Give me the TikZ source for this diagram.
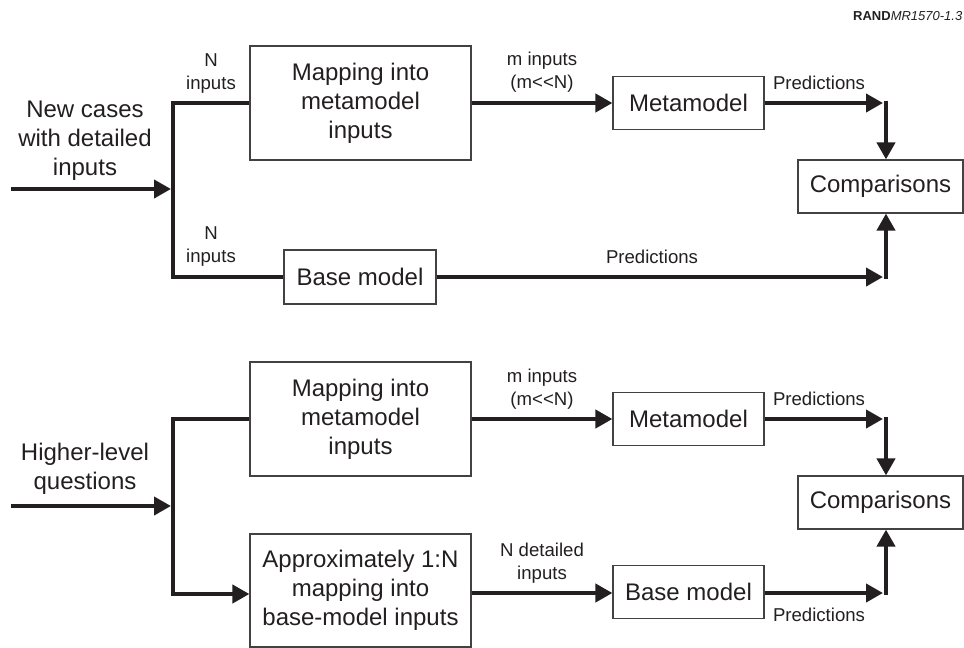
\documentclass[tikz,border=0pt]{standalone}
\usepackage{fontspec}
\setmainfont{Liberation Sans}
\usetikzlibrary{arrows.meta}
\definecolor{ink}{HTML}{231F20}
\begin{document}
\begin{tikzpicture}[x=1pt,y=-1pt,
  box/.style={draw=ink!85, line width=1.2pt, inner sep=0pt, align=center, text=ink, font=\fontsize{24}{29}\selectfont},
  big/.style={align=center, text=ink, font=\fontsize{24}{29}\selectfont, inner sep=0pt},
  small/.style={align=center, text=ink, font=\fontsize{18.6}{23}\selectfont, inner sep=0pt},
  flow/.style={draw=ink, line width=4pt, -{Triangle[length=17pt,width=18pt]}},
  bus/.style={draw=ink, line width=4pt, line join=miter},
]
\useasboundingbox (0,0) rectangle (964,648);

% RAND label
\node[anchor=west, text=ink, inner sep=0pt, font=\fontsize{13}{15}\selectfont] (rand) at (853,16) {\textbf{RAND}\textit{MR1570-1.3}};

% ---------- top diagram ----------
\node[big] (in1) at (85,141) {New cases\\with detailed\\inputs};
\node[box, minimum width=221pt, minimum height=114pt] (map1) at (360.5,103) {Mapping into\\metamodel\\inputs};
\node[box, minimum width=152pt, minimum height=54pt] (base1) at (360,277) {Base model};
\node[box, minimum width=151pt, minimum height=53pt] (meta1) at (688.5,103) {Metamodel};
\node[box, minimum width=165pt, minimum height=53pt] (comp1) at (880.5,186.5) {Comparisons};

\node[small] (lN1) at (211,74) {N\\inputs};
\node[small] (lN2) at (211,247) {N\\inputs};
\node[small] (lm1) at (542,72) {m inputs\\(m{<}{<}N)};
\node[small] (lp1) at (819,83) {Predictions};
\node[small] (lp2) at (652,257) {Predictions};

\coordinate (s1) at (11,189);
\coordinate (j1) at (173,189);
\coordinate (c1) at (886,103);
\coordinate (c1t) at (886,101);
\coordinate (c2) at (886,277);
\coordinate (c2b) at (886,279);

\draw[flow, shorten >=2pt] (s1) -- (j1);
\draw[bus] (map1.west) -| (j1) |- (base1.west);
\draw[flow] (map1.east) -- (meta1.west);
\draw[flow, shorten >=3pt] (meta1.east) -- (c1);
\draw[flow] (c1t) -- (c1t |- comp1.north);
\draw[flow, shorten >=3pt] (base1.east) -- (c2);
\draw[flow] (c2b) -- (c2b |- comp1.south);

% ---------- bottom diagram ----------
\node[big] (in2) at (85,469) {Higher-level\\questions};
\node[box, minimum width=221pt, minimum height=114pt] (map2) at (360.5,419) {Mapping into\\metamodel\\inputs};
\node[box, minimum width=221pt, minimum height=113pt] (approx2) at (360.5,590.5) {Approximately 1:N\\mapping into\\base-model inputs};
\node[box, minimum width=151pt, minimum height=53pt] (meta2) at (688.5,419) {Metamodel};
\node[box, minimum width=151pt, minimum height=53pt] (base2) at (688.5,592) {Base model};
\node[box, minimum width=165pt, minimum height=53pt] (comp2) at (880.5,502.5) {Comparisons};

\node[small] (lm2) at (542,389) {m inputs\\(m{<}{<}N)};
\node[small] (lp3) at (819,399) {Predictions};
\node[small] (ld2) at (542,563) {N detailed\\inputs};
\node[small] (lp4) at (819,615) {Predictions};

\coordinate (s2) at (11,506);
\coordinate (j2) at (173,506);
\coordinate (lv2) at (0,594);
\coordinate (lv3) at (0,593);
\coordinate (d1) at (886,419);
\coordinate (d1t) at (886,417);
\coordinate (d2) at (886,593);
\coordinate (d2b) at (886,595);

\draw[flow, shorten >=2pt] (s2) -- (j2);
\draw[bus] (map2.west) -| (j2);
\draw[flow] (j2) |- (approx2.west |- lv2);
\draw[flow] (map2.east) -- (meta2.west);
\draw[flow, shorten >=3pt] (meta2.east) -- (d1);
\draw[flow] (d1t) -- (d1t |- comp2.north);
\draw[flow] (approx2.east |- lv3) -- (base2.west |- lv3);
\draw[flow, shorten >=3pt] (base2.east |- lv3) -- (d2);
\draw[flow] (d2b) -- (d2b |- comp2.south);
\end{tikzpicture}
\end{document}
